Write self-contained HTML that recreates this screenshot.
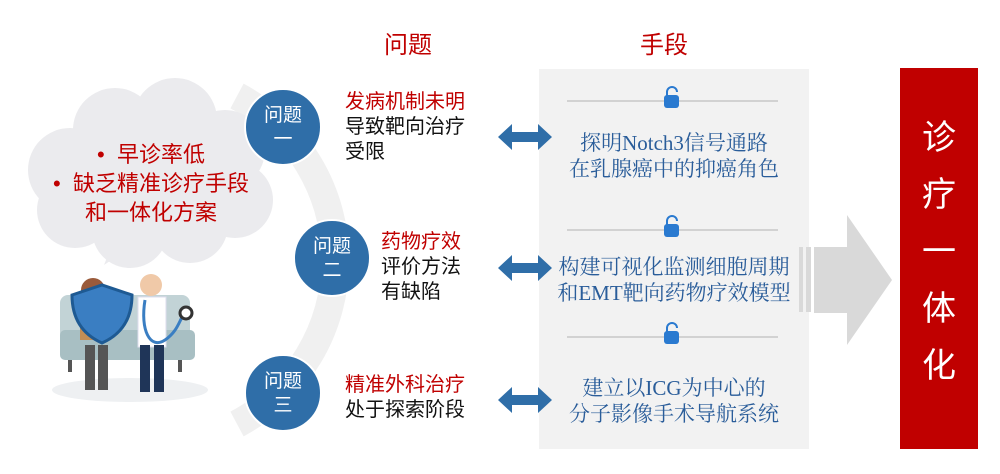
<!DOCTYPE html>
<html><head><meta charset="utf-8"><style>
body{margin:0;width:1000px;height:474px;background:#fff;overflow:hidden;position:relative;font-family:"Liberation Sans","Noto Sans CJK SC",sans-serif}
.a{position:absolute}
.t{font-size:20px;line-height:25px;color:#111}
.r{color:#c00000}
.c{position:absolute;width:78px;height:78px;border-radius:50%;background:#2f6ea8;border:2px solid #fff;color:#fff;font-size:19px;line-height:24px;text-align:center;box-sizing:border-box;padding-top:14px}
.m{position:absolute;left:539px;width:270px;text-align:center;color:#2a5d9a;font-family:"Liberation Serif","Noto Serif CJK SC",serif;font-size:21px;line-height:26px}
</style></head><body>
<svg class="a" style="left:0;top:0" width="1000" height="474">
<path d="M237 96 A186 186 0 0 1 237 424" fill="none" stroke="#f0f0f0" stroke-width="28"/>
<rect x="539" y="69" width="270" height="380" fill="#f2f2f2"/>
<g stroke="#c8c8c8" stroke-width="1.5">
<line x1="567" y1="101" x2="778" y2="101"/><line x1="567" y1="230" x2="778" y2="230"/><line x1="567" y1="337" x2="778" y2="337"/></g>
<g fill="#2a7ad0">
<rect x="664" y="95" width="15" height="13" rx="3"/><path d="M667 96v-4a5 5 0 0 1 10 0" fill="none" stroke="#2a7ad0" stroke-width="2"/>
<rect x="664" y="224" width="15" height="13" rx="3"/><path d="M667 225v-4a5 5 0 0 1 10 0" fill="none" stroke="#2a7ad0" stroke-width="2"/>
<rect x="664" y="331" width="15" height="13" rx="3"/><path d="M667 332v-4a5 5 0 0 1 10 0" fill="none" stroke="#2a7ad0" stroke-width="2"/>
</g>
<g fill="#2f6ea8">
<path d="M498 137l14-13v8h26v-8l14 13-14 13v-8h-26v8z"/>
<path d="M498 268l14-13v8h26v-8l14 13-14 13v-8h-26v8z"/>
<path d="M498 400l14-13v8h26v-8l14 13-14 13v-8h-26v8z"/>
</g>
<rect x="799" y="247" width="4" height="65" fill="#d9d9d9"/><rect x="806" y="247" width="5" height="65" fill="#d9d9d9"/>
<path d="M814 247h33v-32l45 65-45 65v-32h-33z" fill="#d9d9d9"/>
<rect x="900" y="68" width="78" height="381" fill="#c00000"/>
<g fill="#ebebee">
<circle cx="70" cy="170" r="42"/><circle cx="115" cy="130" r="42"/><circle cx="175" cy="120" r="42"/><circle cx="225" cy="150" r="40"/>
<circle cx="235" cy="200" r="38"/><circle cx="190" cy="225" r="38"/><circle cx="130" cy="230" r="38"/><circle cx="75" cy="210" r="38"/>
<rect x="70" y="140" width="170" height="80"/><path d="M110 250l-6 15 30-20z"/>
</g>
<ellipse cx="130" cy="390" rx="78" ry="12" fill="#eef0f2"/>
<rect x="60" y="295" width="130" height="50" rx="8" fill="#c2d3d6"/>
<rect x="60" y="330" width="135" height="30" rx="5" fill="#a8bfc3"/>
<rect x="68" y="360" width="4" height="12" fill="#555"/><rect x="178" y="360" width="4" height="12" fill="#555"/>
<circle cx="93" cy="290" r="12" fill="#9a5a3a"/><rect x="80" y="300" width="28" height="40" fill="#c38e55"/>
<path d="M72 295l30-10 30 10c0 25-12 40-30 48-18-8-30-23-30-48z" fill="#3a7ec2" stroke="#1e5a93" stroke-width="3"/>
<rect x="85" y="345" width="10" height="45" fill="#555"/><rect x="98" y="345" width="10" height="45" fill="#555"/>
<circle cx="151" cy="285" r="11" fill="#f0c9a8"/><rect x="138" y="297" width="28" height="50" fill="#fff" stroke="#dde" />
<rect x="140" y="345" width="10" height="47" fill="#1f3558"/><rect x="154" y="345" width="10" height="47" fill="#1f3558"/>
<path d="M145 300c-5 30 5 50 20 40c15-10 15-25 20-25" fill="none" stroke="#3a7ec2" stroke-width="3"/>
<circle cx="186" cy="313" r="6" fill="#fff" stroke="#333" stroke-width="3"/>
</svg>
<div class="a r" style="left:36px;top:140px;width:230px;text-align:center;font-size:22px;line-height:29px">•&nbsp; 早诊率低<br>•&nbsp; 缺乏精准诊疗手段<br>和一体化方案</div>
<div class="a r" style="left:384px;top:25px;font-size:24px">问题</div>
<div class="a r" style="left:640px;top:25px;font-size:24px">手段</div>
<div class="c" style="left:244px;top:88px">问题<br>一</div>
<div class="c" style="left:293px;top:219px">问题<br>二</div>
<div class="c" style="left:244px;top:354px">问题<br>三</div>
<div class="a t" style="left:345px;top:90px"><span class="r">发病机制未明</span><br>导致靶向治疗<br>受限</div>
<div class="a t" style="left:381px;top:230px"><span class="r">药物疗效</span><br>评价方法<br>有缺陷</div>
<div class="a t" style="left:345px;top:373px"><span class="r">精准外科治疗</span><br>处于探索阶段</div>
<div class="m" style="top:130px">探明Notch3信号通路<br>在乳腺癌中的抑癌角色</div>
<div class="m" style="top:254px">构建可视化监测细胞周期<br>和EMT靶向药物疗效模型</div>
<div class="m" style="top:375px">建立以ICG为中心的<br>分子影像手术导航系统</div>
<div class="a" style="left:900px;top:110px;width:78px;text-align:center;color:#fff;font-size:34px;line-height:57px">诊<br>疗<br>一<br>体<br>化</div>
</body></html>
